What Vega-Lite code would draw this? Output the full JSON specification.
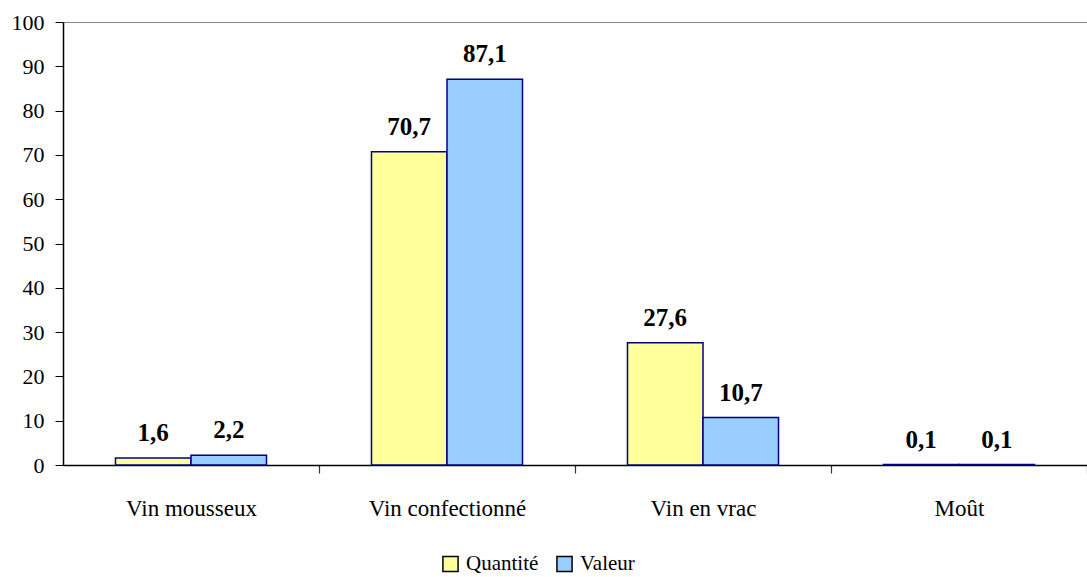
{
  "$schema": "https://vega.github.io/schema/vega-lite/v6.json",
  "autosize": "none",
  "width": 1024,
  "height": 443,
  "padding": {"left": 63, "top": 22, "right": 0, "bottom": 112},
  "background": "white",
  "config": {
    "font": "Liberation Serif",
    "axis": {"labelFont": "Liberation Serif"},
    "legend": {"labelFont": "Liberation Serif"},
    "text": {"font": "Liberation Serif"},
    "view": {"stroke": "#888888", "strokeWidth": 1}
  },
  "data": {
    "values": [
      {"cat": "Vin mousseux", "serie": "Quantité", "value": 1.6, "label": "1,6"},
      {"cat": "Vin mousseux", "serie": "Valeur", "value": 2.2, "label": "2,2"},
      {"cat": "Vin confectionné", "serie": "Quantité", "value": 70.7, "label": "70,7"},
      {"cat": "Vin confectionné", "serie": "Valeur", "value": 87.1, "label": "87,1"},
      {"cat": "Vin en vrac", "serie": "Quantité", "value": 27.6, "label": "27,6"},
      {"cat": "Vin en vrac", "serie": "Valeur", "value": 10.7, "label": "10,7"},
      {"cat": "Moût", "serie": "Quantité", "value": 0.1, "label": "0,1"},
      {"cat": "Moût", "serie": "Valeur", "value": 0.1, "label": "0,1"}
    ]
  },
  "encoding": {
    "x": {
      "field": "cat", "type": "nominal", "sort": null, "title": null,
      "scale": {"paddingInner": 0.41, "paddingOuter": 0.205},
      "axis": {
        "labelAngle": 0, "labelFont": "Liberation Serif", "labelFontSize": 23, "labelColor": "black", "labelPadding": 24,
        "ticks": true, "bandPosition": 1, "tickOffset": 52.5, "labelOffset": -52.5,
        "tickSize": 8, "tickColor": "#333333", "tickWidth": 1.2, "tickOpacity": 1,
        "domainColor": "black", "domainWidth": 1.5, "grid": false
      }
    },
    "xOffset": {"field": "serie", "type": "nominal", "sort": ["Quantité", "Valeur"]},
    "y": {
      "field": "value", "type": "quantitative", "title": null,
      "scale": {"domain": [0, 100], "nice": false},
      "axis": {
        "values": [0, 10, 20, 30, 40, 50, 60, 70, 80, 90, 100],
        "labelFont": "Liberation Serif", "labelFontSize": 22, "labelColor": "black", "labelPadding": 11,
        "tickSize": 8, "tickColor": "black", "domainColor": "black", "domainWidth": 1.5, "grid": false
      }
    }
  },
  "layer": [
    {
      "mark": {"type": "bar", "stroke": "#000080", "strokeWidth": 1.5},
      "encoding": {
        "color": {
          "field": "serie", "type": "nominal", "title": null,
          "scale": {"domain": ["Quantité", "Valeur"], "range": ["#FFFF99", "#99CCFF"]},
          "legend": {
            "orient": "none", "direction": "horizontal", "legendX": 377, "legendY": 531,
            "symbolType": "square", "symbolSize": 230, "symbolStrokeColor": "black",
            "symbolStrokeWidth": 1.5, "labelFont": "Liberation Serif", "labelFontSize": 21, "labelColor": "black",
            "columnPadding": 14, "labelOffset": 5
          }
        }
      }
    },
    {
      "mark": {"type": "text", "font": "Liberation Serif", "fontWeight": "bold", "fontSize": 25, "baseline": "alphabetic", "dy": -17, "color": "black"},
      "encoding": {"text": {"field": "label"}}
    }
  ]
}
